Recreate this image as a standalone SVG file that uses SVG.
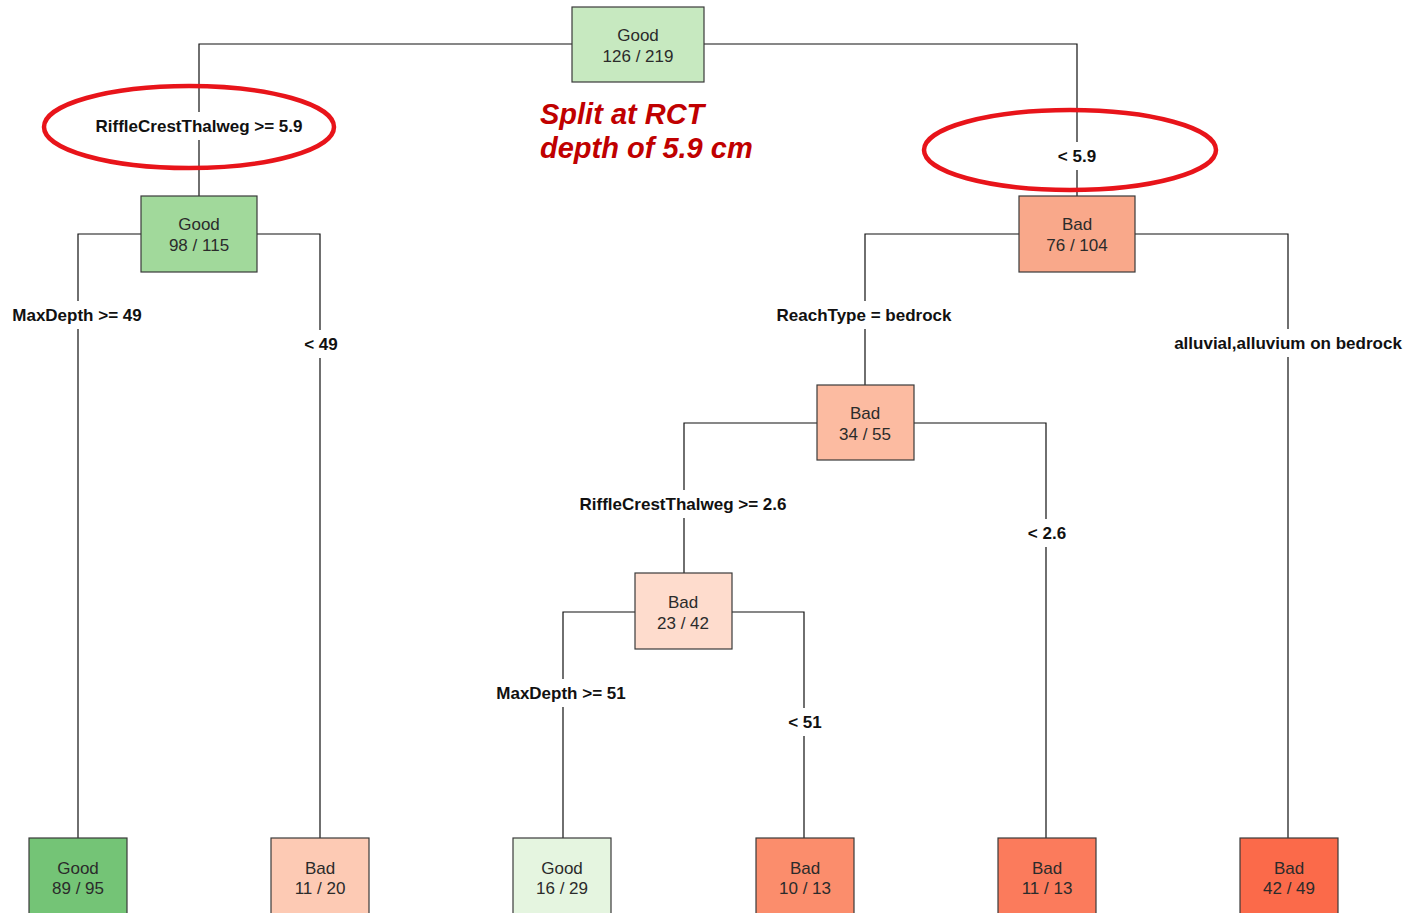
<svg xmlns="http://www.w3.org/2000/svg" width="1418" height="913" viewBox="0 0 1418 913">
<style>
  .node rect { stroke: #3a3a3a; stroke-width: 1.2; }
  .node text { font-family: "Liberation Sans", Arial, sans-serif; font-size: 17px; fill: #2b2b2b; text-anchor: middle; }
  .edge { stroke: #111; stroke-width: 1.2; fill: none; }
  .lblbg { fill: #ffffff; stroke: none; }
  .lbl { font-family: "Liberation Sans", Arial, sans-serif; font-size: 17px; font-weight: bold; fill: #111; text-anchor: middle; }
  .hl { fill: none; stroke: #e8141a; stroke-width: 4.5; }
  .note { font-family: "Liberation Sans", Arial, sans-serif; font-size: 29px; font-weight: bold; font-style: italic; fill: #c00000; }
</style>
<rect x="0" y="0" width="1418" height="913" fill="#ffffff"/>
<g id="connectors">
  <path class="edge" d="M199 196 V44 H1077 V196"/>
  <path class="edge" d="M78 838 V234 H320 V838"/>
  <path class="edge" d="M865 385 V234 H1288 V838"/>
  <path class="edge" d="M684 573 V423 H1046 V838"/>
  <path class="edge" d="M563 838 V612 H804 V838"/>
  <g id="labels">
    <rect class="lblbg" x="91" y="112" width="216" height="28"/>
    <text class="lbl" x="199" y="132">RiffleCrestThalweg &gt;= 5.9</text>
    <rect class="lblbg" x="1054" y="142" width="46" height="28"/>
    <text class="lbl" x="1077" y="162">&lt; 5.9</text>
    <rect class="lblbg" x="8" y="301" width="140" height="28"/>
    <text class="lbl" x="77" y="321">MaxDepth &gt;= 49</text>
    <rect class="lblbg" x="300" y="330" width="42" height="28"/>
    <text class="lbl" x="321" y="350">&lt; 49</text>
    <rect class="lblbg" x="770" y="301" width="188" height="28"/>
    <text class="lbl" x="864" y="321">ReachType = bedrock</text>
    <rect class="lblbg" x="1170" y="329" width="236" height="28"/>
    <text class="lbl" x="1288" y="349">alluvial,alluvium on bedrock</text>
    <rect class="lblbg" x="574" y="490" width="218" height="28"/>
    <text class="lbl" x="683" y="510">RiffleCrestThalweg &gt;= 2.6</text>
    <rect class="lblbg" x="1024" y="519" width="46" height="28"/>
    <text class="lbl" x="1047" y="539">&lt; 2.6</text>
    <rect class="lblbg" x="492" y="679" width="138" height="28"/>
    <text class="lbl" x="561" y="699">MaxDepth &gt;= 51</text>
    <rect class="lblbg" x="785" y="708" width="40" height="28"/>
    <text class="lbl" x="805" y="728">&lt; 51</text>
  </g>
</g>
<g id="n_root" class="node">
  <rect x="572" y="7" width="132" height="75" fill="#c7e9c0"/>
  <text x="638" y="41">Good</text>
  <text x="638" y="62">126 / 219</text>
</g>
<g id="n_good98" class="node">
  <rect x="141" y="196" width="116" height="76" fill="#a1d99b"/>
  <text x="199" y="230">Good</text>
  <text x="199" y="251">98 / 115</text>
</g>
<g id="n_bad76" class="node">
  <rect x="1019" y="196" width="116" height="76" fill="#f9a88a"/>
  <text x="1077" y="230">Bad</text>
  <text x="1077" y="251">76 / 104</text>
</g>
<g id="n_bad34" class="node">
  <rect x="817" y="385" width="97" height="75" fill="#fcbba1"/>
  <text x="865" y="419">Bad</text>
  <text x="865" y="440">34 / 55</text>
</g>
<g id="n_bad23" class="node">
  <rect x="635" y="573" width="97" height="76" fill="#fedccd"/>
  <text x="683" y="608">Bad</text>
  <text x="683" y="629">23 / 42</text>
</g>
<g id="n_good89" class="node">
  <rect x="29" y="838" width="98" height="80" fill="#74c476"/>
  <text x="78" y="874">Good</text>
  <text x="78" y="894">89 / 95</text>
</g>
<g id="n_bad11a" class="node">
  <rect x="271" y="838" width="98" height="80" fill="#fdcab4"/>
  <text x="320" y="874">Bad</text>
  <text x="320" y="894">11 / 20</text>
</g>
<g id="n_good16" class="node">
  <rect x="513" y="838" width="98" height="80" fill="#e5f5e0"/>
  <text x="562" y="874">Good</text>
  <text x="562" y="894">16 / 29</text>
</g>
<g id="n_bad10" class="node">
  <rect x="756" y="838" width="98" height="80" fill="#fb8d6c"/>
  <text x="805" y="874">Bad</text>
  <text x="805" y="894">10 / 13</text>
</g>
<g id="n_bad11b" class="node">
  <rect x="998" y="838" width="98" height="80" fill="#fb7b5c"/>
  <text x="1047" y="874">Bad</text>
  <text x="1047" y="894">11 / 13</text>
</g>
<g id="n_bad42" class="node">
  <rect x="1240" y="838" width="98" height="80" fill="#fb6a4a"/>
  <text x="1289" y="874">Bad</text>
  <text x="1289" y="894">42 / 49</text>
</g>
<g id="annotation">
  <ellipse class="hl" cx="189" cy="127" rx="145" ry="41"/>
  <ellipse class="hl" cx="1070" cy="150" rx="146" ry="40"/>
  <text class="note" x="540" y="124">Split at RCT</text>
  <text class="note" x="540" y="158">depth of 5.9 cm</text>
</g>
</svg>
